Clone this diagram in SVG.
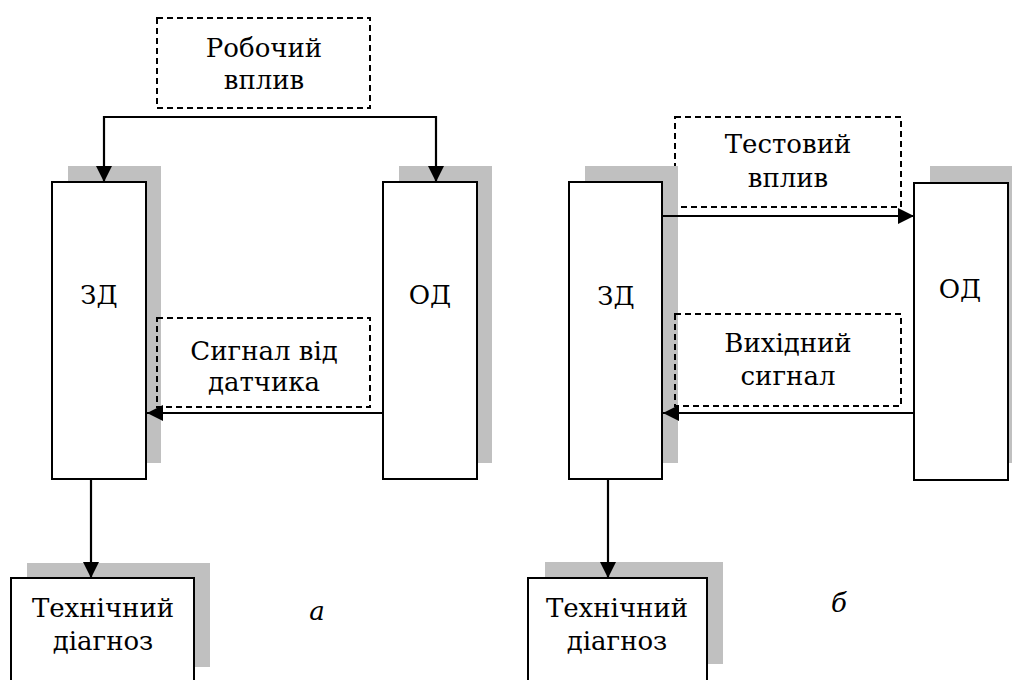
<svg xmlns="http://www.w3.org/2000/svg" width="1012" height="680" viewBox="0 0 1012 680">
<style>
  .box { fill: #ffffff; stroke: #000000; stroke-width: 2; }
  .shadow { fill: #c0c0c0; stroke: none; }
  .dash { fill: none; stroke: #000000; stroke-width: 2; stroke-dasharray: 6 4; }
  .line { fill: none; stroke: #000000; stroke-width: 2.2; }
  .t { font-family: 'DejaVu Serif', 'Liberation Serif', serif; font-size: 26px; fill: #000000; text-anchor: middle; }
  .it { font-style: italic; }
</style>
<defs>
  <marker id="arr" markerUnits="userSpaceOnUse" markerWidth="20" markerHeight="20" refX="16" refY="8" orient="auto" overflow="visible">
    <path d="M0,0 L16,8 L0,16 Z" fill="#000000"/>
  </marker>
</defs>
<rect width="1012" height="680" fill="#ffffff"/>

<!-- Panel a -->
<g id="robochyi-vplyv">
  <rect class="dash" x="157" y="18" width="213" height="90"/>
  <text class="t" x="264" y="57">Робочий</text>
  <text class="t" x="264" y="89">вплив</text>
</g>
<g id="zd-a">
  <rect class="shadow" x="68" y="166" width="93" height="297"/>
  <rect class="box" x="52" y="182" width="94" height="297"/>
  <text class="t" x="99" y="304">ЗД</text>
</g>
<g id="od-a">
  <rect class="shadow" x="399" y="166" width="93" height="297"/>
  <rect class="box" x="383" y="182" width="94" height="297"/>
  <text class="t" x="430" y="304">ОД</text>
</g>
<g id="signal-a">
  <rect class="dash" x="157" y="318" width="213" height="89"/>
  <text class="t" x="264" y="360">Сигнал від</text>
  <text class="t" x="264" y="391">датчика</text>
</g>
<g id="diag-a">
  <rect class="shadow" x="27" y="563" width="183" height="104"/>
  <rect class="box" x="11" y="578" width="183" height="106"/>
  <text class="t" x="103" y="617">Технічний</text>
  <text class="t" x="103" y="650">діагноз</text>
</g>
<text class="t it" x="317" y="620">а</text>

<!-- Panel b -->
<g id="test-vplyv">
  <rect class="dash" x="675" y="117" width="226" height="90"/>
  <text class="t" x="788" y="153">Тестовий</text>
  <text class="t" x="788" y="187">вплив</text>
</g>
<g id="zd-b">
  <rect class="shadow" x="585" y="166" width="93" height="297"/>
  <rect class="box" x="569" y="182" width="93" height="297"/>
  <text class="t" x="616" y="305">ЗД</text>
</g>
<g id="od-b">
  <rect class="shadow" x="930" y="166" width="93" height="297"/>
  <rect class="box" x="914" y="183" width="94" height="297"/>
  <text class="t" x="960" y="298">ОД</text>
</g>
<g id="vykhidnyi-b">
  <rect class="dash" x="675" y="314" width="226" height="92"/>
  <text class="t" x="788" y="352">Вихідний</text>
  <text class="t" x="788" y="385">сигнал</text>
</g>
<g id="diag-b">
  <rect class="shadow" x="545" y="562" width="178" height="102"/>
  <rect class="box" x="528" y="578" width="179" height="106"/>
  <text class="t" x="617" y="617">Технічний</text>
  <text class="t" x="617" y="650">діагноз</text>
</g>
<text class="t it" x="839" y="612">б</text>

<g id="connectors">
  <path class="line" d="M270,117 H104 V182" marker-end="url(#arr)"/>
  <path class="line" d="M270,117 H436 V182" marker-end="url(#arr)"/>
  <path class="line" d="M383,413 H147" marker-end="url(#arr)"/>
  <path class="line" d="M91,479 V578" marker-end="url(#arr)"/>
  <path class="line" d="M662,216 H914" marker-end="url(#arr)"/>
  <path class="line" d="M914,413 H663" marker-end="url(#arr)"/>
  <path class="line" d="M608,479 V578" marker-end="url(#arr)"/>
</g>
</svg>
